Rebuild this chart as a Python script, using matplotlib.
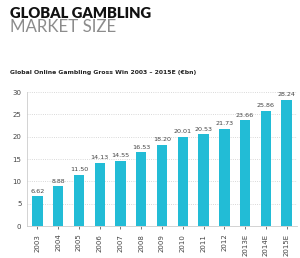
import numpy as np
import matplotlib.pyplot as plt

years = ["2003", "2004", "2005", "2006", "2007", "2008", "2009",
         "2010", "2011", "2012", "2013E", "2014E", "2015E"]
gross_win = [6.62, 8.88, 11.50, 14.13, 14.55, 16.53, 18.20,
             20.01, 20.53, 21.73, 23.66, 25.86, 28.24]
yticks = [0, 5, 10, 15, 20, 25, 30]

BAR_COLOR = "#22bcd6"

fig = plt.figure(figsize=(3.0, 2.58), dpi=100)
fig.patch.set_facecolor("white")

fig.text(0.033, 0.932, "GLOBAL GAMBLING", fontsize=10.6, fontweight="heavy",
         family="Lato", color="#111111", va="baseline")
fig.text(0.033, 0.877, "MARKET SIZE", fontsize=12.2, fontweight="normal",
         family="Lato", color="#8c8c8c", va="baseline")
fig.text(0.033, 0.715, "Global Online Gambling Gross Win 2003 \u2013 2015E (\u20acbn)",
         fontsize=4.45, fontweight="bold", family="DejaVu Sans", color="#222222",
         va="baseline")

ax = fig.add_axes([0.09, 0.124, 0.9, 0.519])
x = np.arange(len(years))
ax.bar(x, gross_win, width=0.5, color=BAR_COLOR, zorder=3)
for xi, v in zip(x, gross_win):
    ax.text(xi, v + 0.6, f"{v:.2f}", ha="center", va="bottom",
            fontsize=4.6, color="#444444", clip_on=False)

ax.set_xlim(-0.5, len(years) - 0.5)
ax.set_ylim(0, 30)
ax.set_yticks(yticks)
ax.set_xticks(x)
ax.set_xticklabels(years, rotation=90)
ax.tick_params(axis="both", labelsize=5, colors="#444444", length=2, width=0.5)
ax.tick_params(axis="y", length=0, pad=4)
ax.grid(axis="y", linestyle=":", color="#cccccc", linewidth=0.6, zorder=0)
for s in ["top", "right"]:
    ax.spines[s].set_visible(False)
ax.spines["left"].set_color("#cccccc")
ax.spines["bottom"].set_color("#cccccc")
ax.spines["left"].set_linewidth(0.6)
ax.spines["bottom"].set_linewidth(0.6)

fig.savefig("out.png", dpi=100)
